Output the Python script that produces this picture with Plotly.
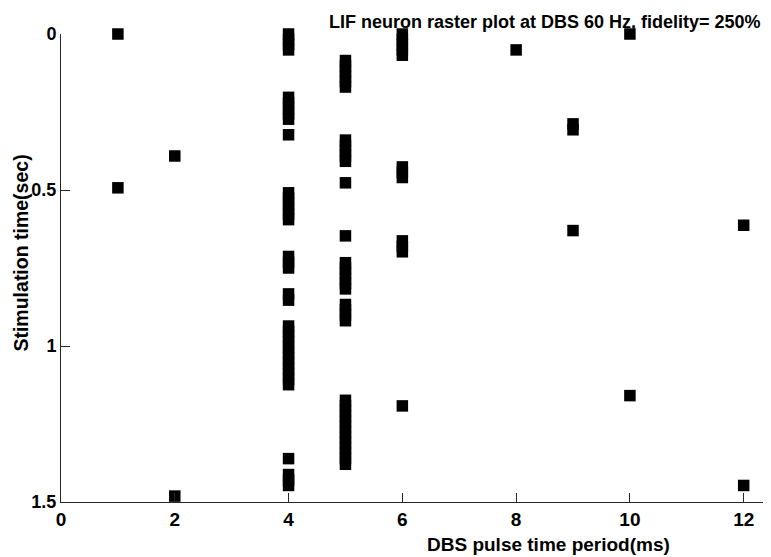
import plotly.graph_objects as go

# DBS pulse time period (ms) columns and spike times (sec)
period_ms = [1, 2, 4, 5, 6, 8, 9, 10, 12]

spikes_1ms = [0.000, 0.493]
spikes_2ms = [0.391, 1.481]
spikes_4ms = [0.000, 0.017, 0.034, 0.051,
              0.203, 0.221, 0.238, 0.256, 0.273,
              0.323,
              0.509, 0.526, 0.544, 0.561, 0.578, 0.595,
              0.713, 0.732, 0.750,
              0.833, 0.853,
              0.936, 0.953, 0.970, 0.987, 1.005, 1.022, 1.039, 1.056, 1.073, 1.090, 1.107, 1.124,
              1.361,
              1.412, 1.430, 1.447]
spikes_5ms = [0.085, 0.102, 0.119, 0.136, 0.153, 0.170,
              0.340, 0.357, 0.374, 0.391, 0.408,
              0.477,
              0.647,
              0.733, 0.750, 0.767, 0.784, 0.800, 0.817,
              0.867, 0.884, 0.901, 0.919,
              1.174, 1.191, 1.208, 1.225, 1.242, 1.259, 1.276, 1.293, 1.310, 1.327, 1.344, 1.361, 1.379]
spikes_6ms = [0.000, 0.017, 0.034, 0.051, 0.068,
              0.426, 0.443, 0.460,
              0.663, 0.681, 0.698,
              1.192]
spikes_8ms = [0.051]
spikes_9ms = [0.288, 0.307, 0.630]
spikes_10ms = [0.000, 1.159]
spikes_12ms = [0.613, 1.447]

spike_lists = [spikes_1ms, spikes_2ms, spikes_4ms, spikes_5ms, spikes_6ms,
               spikes_8ms, spikes_9ms, spikes_10ms, spikes_12ms]

x_ticks = [0, 2, 4, 6, 8, 10, 12]
y_ticks = [0, 0.5, 1, 1.5]
y_tick_text = ["0", "0.5", "1", "1.5"]

xs, ys = [], []
for p, lst in zip(period_ms, spike_lists):
    xs.extend([p] * len(lst))
    ys.extend(lst)

FONT = "Liberation Sans, Arial, sans-serif"
AX = "#262626"
FS = 19

fig = go.Figure(go.Scatter(
    x=xs, y=ys, mode="markers",
    marker=dict(symbol="square", size=11.5, color="black", line=dict(width=0)),
    cliponaxis=False, showlegend=False,
))

# page body has an 8px margin, so the figure is sized to fit inside the window
fig.update_layout(
    width=763, height=549,
    margin=dict(l=53, r=0, t=26, b=55),
    paper_bgcolor="white", plot_bgcolor="white",
    font=dict(family=FONT, size=FS, color="black"),
    xaxis=dict(range=[0, 12.48], tickvals=x_ticks, ticks="inside", ticklen=9,
               tickcolor=AX, tickwidth=1, showline=True, linecolor=AX, linewidth=1,
               showgrid=False, zeroline=False, ticklabelstandoff=0,
               tickfont=dict(family=FONT, size=19, color="black", weight="bold")),
    yaxis=dict(range=[1.5, 0], tickvals=y_ticks, ticktext=y_tick_text, ticks="inside",
               ticklen=9, tickcolor=AX, tickwidth=1, showline=True, linecolor=AX,
               linewidth=1, showgrid=False, zeroline=False, ticklabelstandoff=0,
               tickfont=dict(family=FONT, size=18, color="black", weight="bold")),
    annotations=[
        dict(text="<b>LIF neuron raster plot at DBS 60 Hz, fidelity= 250%</b>",
             xref="paper", yref="paper", x=0.682, y=1, xanchor="center",
             yanchor="bottom", yshift=0, showarrow=False,
             font=dict(family=FONT, size=18, color="black")),
        dict(text="<b>DBS pulse time period(ms)</b>",
             xref="paper", yref="paper", x=0.686, y=0, xanchor="center",
             yanchor="top", yshift=-30, showarrow=False,
             font=dict(family=FONT, size=FS, color="black")),
        dict(text="<b>Stimulation time(sec)</b>", textangle=-90,
             xref="paper", yref="paper", x=-0.057, y=0.532, xanchor="center",
             yanchor="middle", showarrow=False,
             font=dict(family=FONT, size=19.5, color="black")),
    ],
)

fig.write_html("out.html")
